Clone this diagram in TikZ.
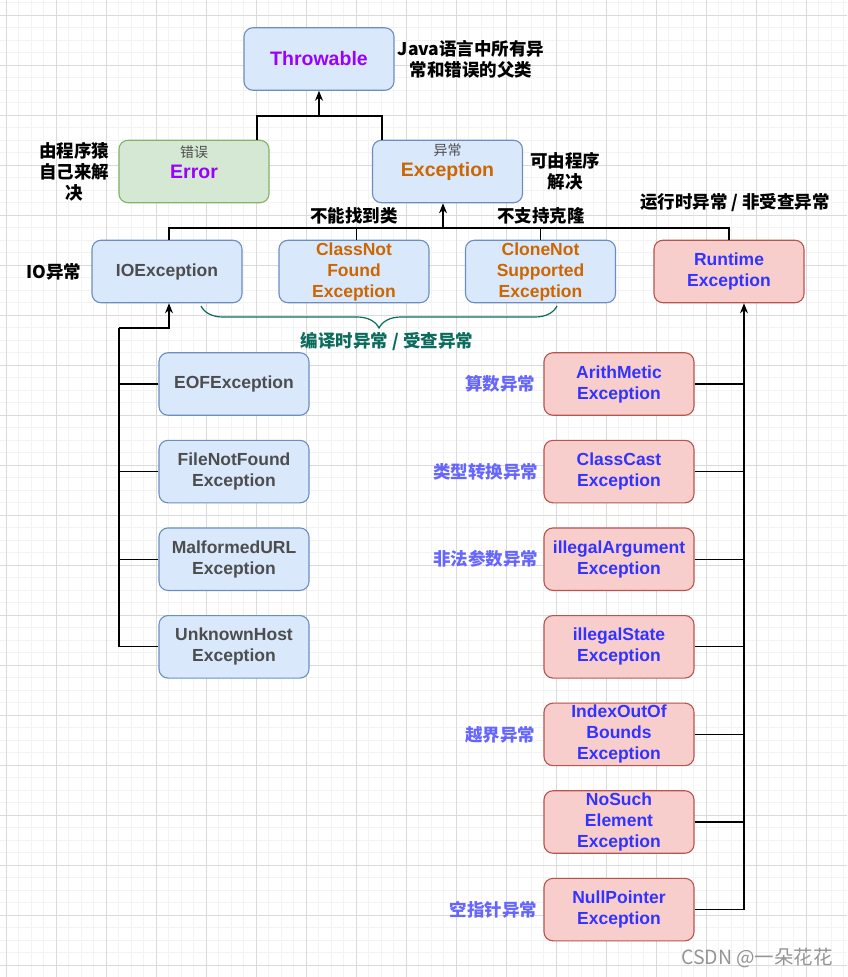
\documentclass[tikz,border=0pt]{standalone}
\usepackage{fontspec}
\setmainfont{Liberation Sans}
\newfontfamily\cjk{Noto Sans CJK SC}
\usetikzlibrary{arrows.meta,positioning,decorations.pathreplacing}

\definecolor{bluefill}{HTML}{DAE8FC}
\definecolor{blueline}{HTML}{6C8EBF}
\definecolor{greenfill}{HTML}{D5E8D4}
\definecolor{greenline}{HTML}{82B366}
\definecolor{redfill}{HTML}{F8CECC}
\definecolor{redline}{HTML}{B85450}
\definecolor{purpletext}{HTML}{9900FF}
\definecolor{orangetext}{HTML}{CC6600}
\definecolor{greytext}{HTML}{4D4D4D}
\definecolor{bluetext}{HTML}{3333FF}
\definecolor{labelblue}{HTML}{6666FF}
\definecolor{tealtext}{HTML}{0B6B5C}
\definecolor{minorgrid}{HTML}{F3F3F3}
\definecolor{majorgrid}{HTML}{DADADA}

\newcommand{\subfont}{\cjk\mdseries\fontsize{14}{16}\selectfont\color{greytext}}

\tikzset{%
  % Specifications for style of connectors:
   tree/.style={
           draw=black,
           line width=1.3pt},
   inherit/.style={
           tree,
           -{Stealth[length=10pt,width=8pt]}},
   checkbrace/.style={
           draw=tealtext,
           line width=1.2pt,
           decorate,
           decoration={brace, amplitude=22pt, mirror}},
  % Specifications for style of nodes:
   base/.style = {rectangle, rounded corners=9pt, line width=1.1pt,
                  minimum width=150pt, minimum height=62.5pt, inner sep=0pt,
                  align=center, font=\fontsize{17.5}{21}\selectfont\bfseries},
   topbox/.style = {base, font=\fontsize{19.5}{21}\selectfont\bfseries},
   rootbox/.style = {topbox, draw=blueline, fill=bluefill, text=purpletext},
   errbox/.style = {topbox, draw=greenline, fill=greenfill, text=purpletext},
   excbox/.style = {topbox, draw=blueline, fill=bluefill, text=orangetext},
   checked/.style = {base, draw=blueline, fill=bluefill, text=greytext},
   unchecked/.style = {base, draw=redline, fill=redfill, text=bluetext},
   note/.style = {align=center, inner sep=1pt,
                  font=\cjk\bfseries\fontsize{17.5}{21}\selectfont},
   bluenote/.style = {note, text=labelblue},
   tealnote/.style = {note, text=tealtext},
}

\begin{document}
\begin{tikzpicture}[x=1pt, y=-1pt]
  \useasboundingbox (0,0) rectangle (847,977);

  % background grid
  \foreach \i in {0,...,67}
    \draw[minorgrid, line width=1pt] ({6.3+12.5*\i},0) -- ++(0,977);
  \foreach \i in {0,...,78}
    \draw[minorgrid, line width=1pt] (0,{2.5+12.5*\i}) -- ++(847,0);
  \foreach \i in {0,...,16}
    \draw[majorgrid, line width=1pt] ({6.3+50*\i},0) -- ++(0,977);
  \foreach \i in {0,...,19}
    \draw[majorgrid, line width=1pt] (0,{15+50*\i}) -- ++(847,0);

  % Specification of nodes (position, etc.)
  \node (throwable)	[rootbox] at (319,59)	{Throwable};
  \node (error)	[errbox, text depth=19pt] at (194,171.5)	{{\subfont 错误}\\Error};
  \node (exception)	[excbox, text depth=22pt] at (447.5,171.5)	{{\subfont 异常}\\Exception};

  \node (ioexc)	[checked] at (167,271.5)	{IOException};
  \node (classnf)	[checked, text=orangetext] at (354,271.5)	{ClassNot\\Found\\Exception};
  \node (clonens)	[checked, text=orangetext] at (540.5,271.5)	{CloneNot\\Supported\\Exception};
  \node (runtime)	[unchecked] at (729,271.5)	{Runtime\\Exception};

  \node (eof)	[checked] at (234,384)	{EOFException};
  \node (fnf)	[checked, below=24pt of eof]	{FileNotFound\\Exception};
  \node (malformed)	[checked, below=24pt of fnf]	{MalformedURL\\Exception};
  \node (unknown)	[checked, below=24pt of malformed]	{UnknownHost\\Exception};

  \node (arith)	[unchecked] at (619,384)	{ArithMetic\\Exception};
  \node (cast)	[unchecked, below=24pt of arith]	{ClassCast\\Exception};
  \node (illarg)	[unchecked, below=24pt of cast]	{illegalArgument\\Exception};
  \node (illstate)	[unchecked, below=24pt of illarg]	{illegalState\\Exception};
  \node (index)	[unchecked, below=24pt of illstate]	{IndexOutOf\\Bounds\\Exception};
  \node (nosuch)	[unchecked, below=24pt of index]	{NoSuch\\Element\\Exception};
  \node (nullptr)	[unchecked, below=24pt of nosuch]	{NullPointer\\Exception};

  % side notes
  \node (javanote)	[note, right=2pt of throwable]	{Java语言中所有异\\常和错误的父类};
  \node (selfnote)	[note, left=8pt of error]	{由程序猿\\自己来解\\决};
  \node (fixnote)	[note, right=6pt of exception]	{可由程序\\解决};
  \node (ionote)	[note, left=9pt of ioexc]	{IO异常};
  \node (nofindnote)	[note] at (354,216)	{不能找到类};
  \node (noclonenote)	[note] at (541,216)	{不支持克隆};
  \node (runtimenote)	[note] at (735,203)	{运行时异常 / 非受查异常};
  \node (checkednote)	[tealnote] at (387,342)	{编译时异常 / 受查异常};

  \node (arithnote)	[bluenote, left=7pt of arith]	{算数异常};
  \node (castnote)	[bluenote, left=4pt of cast]	{类型转换异常};
  \node (illargnote)	[bluenote, left=4pt of illarg]	{非法参数异常};
  \node (indexnote)	[bluenote, left=7pt of index]	{越界异常};
  \node (nullnote)	[bluenote, left=5pt of nullptr]	{空指针异常};

  \node (mark)	[font=\cjk\fontsize{19.5}{21}\selectfont, text=black!42] at (757,958)	{CSDN @一朵花花};

  % Specification of connectors
  \coordinate (inh) at (319,116);
  \coordinate (split) at (443,228);
  \coordinate (iobus) at (119,328);
  \coordinate (rtbus) at ([xshift=15pt]runtime.south);
  \coordinate (bracel) at (201,306);
  \coordinate (bracer) at (557,306);

  \draw[tree] ([xshift=63pt]error.north) |- (inh) -| ([xshift=-65.5pt]exception.north);
  \draw[inherit] (inh) -- (throwable.south);

  \draw[tree] ([xshift=2pt]ioexc.north) |- (split) -| (runtime.north);
  \draw[tree] ([xshift=2.5pt]classnf.north) -- ([xshift=2.5pt]classnf.north |- split);
  \draw[tree] (clonens.north) -- (clonens.north |- split);
  \draw[inherit] (split) -- (split |- exception.south);

  \draw[inherit] (iobus) -| ([xshift=2pt]ioexc.south);
  \draw[tree] (iobus) |- (unknown.west);
  \foreach \n in {eof,fnf,malformed}
    \draw[tree] (\n.west) -- (\n.west -| iobus);

  \draw[inherit] (nullptr.east) -| (rtbus);
  \foreach \n in {arith,cast,illarg,illstate,index,nosuch}
    \draw[tree] (\n.east) -- (\n.east -| rtbus);

  \draw[checkbrace] (bracel) -- (bracer);

\end{tikzpicture}
\end{document}
